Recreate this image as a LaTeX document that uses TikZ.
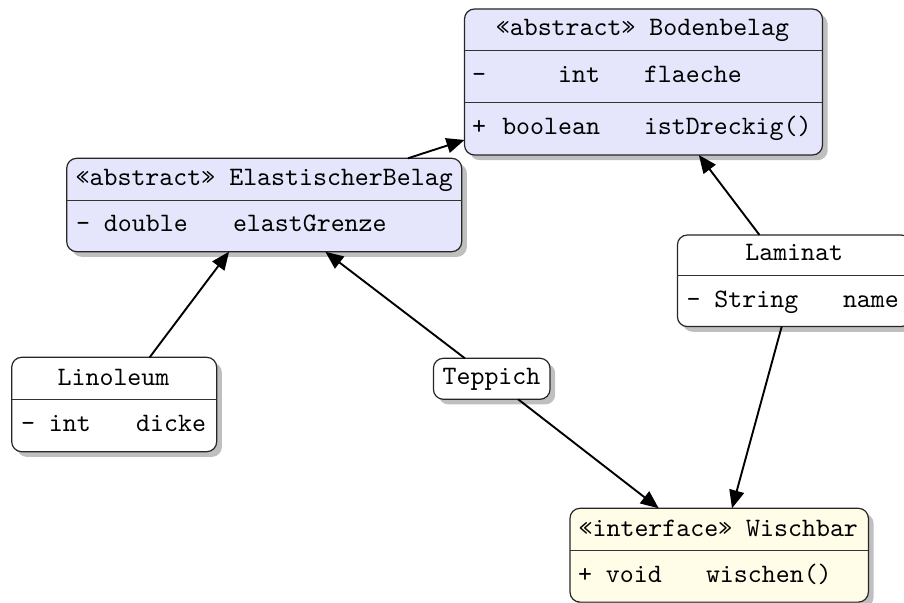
\documentclass[tikz,border=0pt]{standalone}
\usepackage{fontspec}
\newfontfamily\umltt{lmmono10-regular.otf}
\usetikzlibrary{arrows.meta,shadows}
\definecolor{absfill}{RGB}{229,229,251}
\definecolor{intfill}{RGB}{255,252,232}
\tikzset{
  umlbox/.style={draw=black!85, line width=0.6pt, rounded corners=5pt, inner sep=0pt, outer sep=0pt,
    drop shadow={shadow xshift=2.6pt, shadow yshift=-2.6pt, fill=black!50, opacity=0.5}},
  divline/.style={draw=black!80, line width=0.5pt},
  txt/.style={inner sep=0pt, outer sep=0pt, font=\umltt\fontsize{13.3}{15}\selectfont},
  arr/.style={line width=0.95pt, -{Triangle[length=9pt,width=7.5pt]}},
}
\begin{document}
\begin{tikzpicture}[x=0.5pt,y=-0.5pt]
\useasboundingbox (0,0) rectangle (904,603);
\clip (0,0) rectangle (904,603);
% class boxes
\node[umlbox, fill=absfill, minimum width=179pt, minimum height=73pt] (bod) at (643.5,82) {};
\node[umlbox, fill=absfill, minimum width=197.5pt, minimum height=46.7pt] (ela) at (264.2,205) {};
\node[umlbox, fill=white, minimum width=102.5pt, minimum height=47.2pt] (lin) at (114.2,404.5) {};
\node[umlbox, fill=white, minimum width=58.3pt, minimum height=20.5pt] (tep) at (491.7,378.8) {};
\node[umlbox, fill=white, minimum width=116.8pt, minimum height=45.8pt] (lam) at (794.2,280.8) {};
\node[umlbox, fill=intfill, minimum width=149.2pt, minimum height=46.9pt] (wis) at (719.2,555.2) {};
% dividers
\draw[divline] (bod.west |- 0,50.7) -- (bod.east |- 0,50.7);
\draw[divline] (bod.west |- 0,103) -- (bod.east |- 0,103);
\draw[divline] (ela.west |- 0,200.7) -- (ela.east |- 0,200.7);
\draw[divline] (lin.west |- 0,399.3) -- (lin.east |- 0,399.3);
\draw[divline] (lam.west |- 0,276) -- (lam.east |- 0,276);
\draw[divline] (wis.west |- 0,550.7) -- (wis.east |- 0,550.7);
% texts: Bodenbelag
\node[txt, anchor=base] (bodT) at (642.5,36) {«abstract» Bodenbelag};
\node[txt, anchor=base west] (bodA1) at (472,83) {-};
\node[txt, anchor=base east] (bodA2) at (600,83) {int};
\node[txt, anchor=base west] (bodA3) at (644,83) {flaeche};
\node[txt, anchor=base west] (bodM1) at (472,135) {+};
\node[txt, anchor=base east] (bodM2) at (600,135) {boolean};
\node[txt, anchor=base west] (bodM3) at (644,135) {istDreckig()};
% ElastischerBelag
\node[txt, anchor=base] (elaT) at (264.2,186) {«abstract» ElastischerBelag};
\node[txt, anchor=base west] (elaA1) at (76,232) {- double};
\node[txt, anchor=base west] (elaA2) at (233,232) {elastGrenze};
% Linoleum
\node[txt, anchor=base] (linT) at (113.5,386) {Linoleum};
\node[txt, anchor=base west] (linA1) at (21,432) {- int};
\node[txt, anchor=base east] (linA2) at (206,432) {dicke};
% Teppich
\node[txt, anchor=base] (tepT) at (491.5,385) {Teppich};
% Laminat
\node[txt, anchor=base] (lamT) at (794.2,261) {Laminat};
\node[txt, anchor=base west] (lamA1) at (686.5,308) {- String};
\node[txt, anchor=base west] (lamA2) at (843,308) {name};
% Wischbar
\node[txt, anchor=base] (wisT) at (718.3,536) {«interface» Wischbar};
\node[txt, anchor=base west] (wisM1) at (578,582) {+ void};
\node[txt, anchor=base west] (wisM2) at (706,582) {wischen()};
% connectors
\draw[arr] (ela) -- (bod);
\draw[arr] (lam) -- (bod);
\draw[arr] (lin) -- (ela);
\draw[arr] (tep) -- (ela);
\draw[arr] (tep) -- (wis);
\draw[arr] (lam) -- (wis);
\end{tikzpicture}
\end{document}
